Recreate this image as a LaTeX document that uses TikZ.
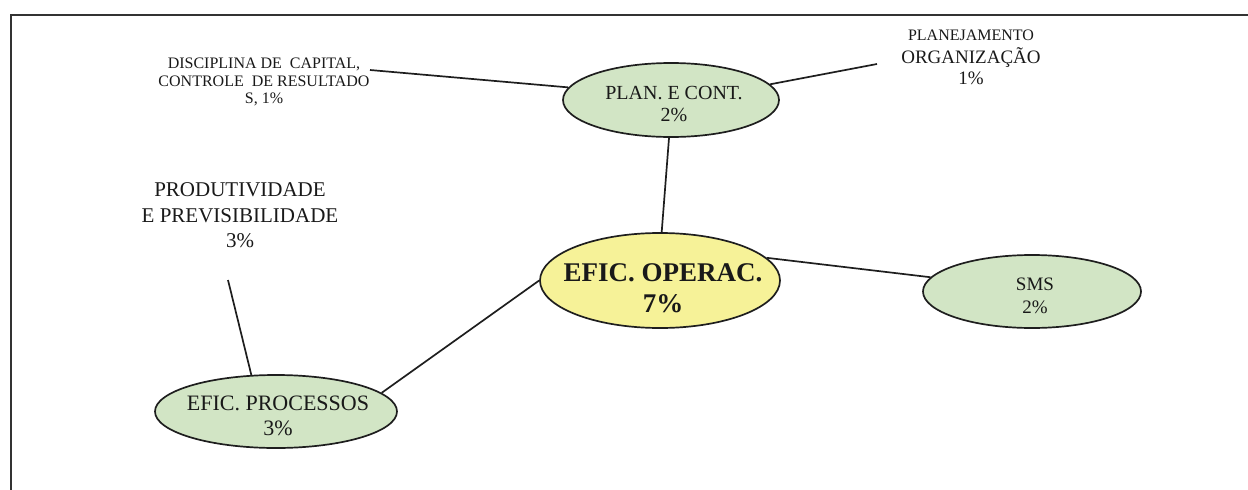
\documentclass[tikz,border=0pt]{standalone}
\usepackage{fontspec}
\setmainfont{Liberation Serif}
\usetikzlibrary{shapes.geometric}
\definecolor{leafgreen}{HTML}{D2E5C5}
\definecolor{coreyellow}{HTML}{F6F298}
\definecolor{inkline}{HTML}{1E1E1E}
\begin{document}
\begin{tikzpicture}[x=1pt,y=-1pt,
  bubble/.style={ellipse, draw=inkline, line width=1.7pt, inner sep=0pt},
  greenbubble/.style={bubble, fill=leafgreen},
  corebubble/.style={bubble, fill=coreyellow},
  caption/.style={align=center, inner sep=0pt, text=black!90},
  link/.style={draw=inkline, line width=1.7pt}]
\useasboundingbox (0,0) rectangle (1248,490);
% open frame: top and left edges only
\draw[line width=2.2pt, draw=black!80, line join=miter] (11,495) -- (11,15) -- (1253,15);

% bubbles
\node[greenbubble, minimum width=216pt, minimum height=74pt] (plan) at (671,100) {};
\node[corebubble, minimum width=240pt, minimum height=95pt] (core) at (660,280.5) {};
\node[greenbubble, minimum width=218pt, minimum height=73pt] (sms) at (1032,291.5) {};
\node[greenbubble, minimum width=242pt, minimum height=73pt] (proc) at (276,411.5) {};

% bubble texts
\node[caption, font=\fontsize{20}{22}\selectfont] (plantxt) at (674,104) {PLAN. E CONT.\\2\%};
\node[caption, font=\bfseries\fontsize{27}{31}\selectfont] (coretxt) at (663,288) {EFIC. OPERAC.\\7\%};
\node[caption, font=\fontsize{19}{23}\selectfont] (smstxt) at (1035,296) {SMS\\2\%};
\node[caption, font=\fontsize{22}{25}\selectfont] (proctxt) at (278,416) {EFIC. PROCESSOS\\3\%};

% free labels
\node[caption, font=\fontsize{16}{17.5}\selectfont] (capital) at (264,82)
  {DISCIPLINA DE\ \ CAPITAL,\\CONTROLE\ \ DE RESULTADO\\S, 1\%};
\node[caption, font=\fontsize{19}{21}\selectfont] (organizacao) at (971,57)
  {{\fontsize{16}{18}\selectfont PLANEJAMENTO}\\[2pt]ORGANIZAÇÃO\\1\%};
\node[caption, font=\fontsize{21}{25.5}\selectfont] (produtividade) at (240,215.5)
  {PRODUTIVIDADE\\E PREVISIBILIDADE\\3\%};

% connectors
\coordinate (capEnd) at (370,70);
\coordinate (orgEnd) at (877,64);
\coordinate (prodEnd) at (228,280);
\draw[link] (capEnd) -- (plan.173);
\draw[link] (plan.9) -- (orgEnd);
\draw[link] (plan.267) -- (core.88);
\draw[link] (core.12) -- (sms.172);
\draw[link] (core.180) -- (proc.10);
\draw[link] (prodEnd) -- (proc.124);
\end{tikzpicture}
\end{document}
